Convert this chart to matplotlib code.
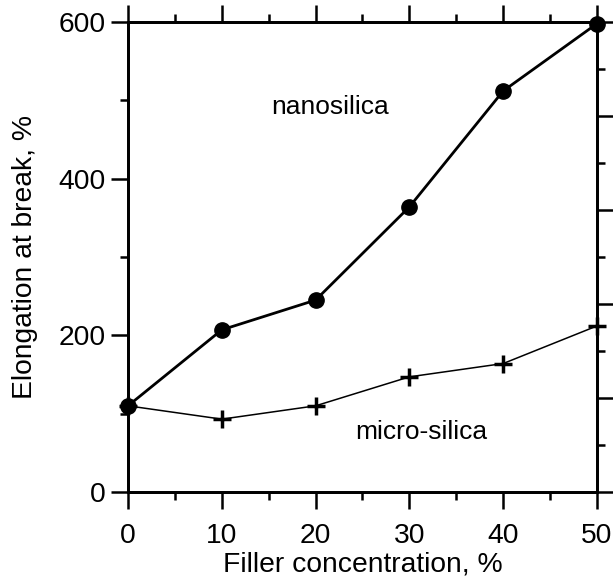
import matplotlib
matplotlib.use("Agg")
import matplotlib.pyplot as plt
from matplotlib.ticker import MultipleLocator, NullFormatter

plt.rcParams['font.family'] = ['Liberation Sans', 'DejaVu Sans']

concentration = [0, 10, 20, 30, 40, 50]
nanosilica = [110, 207, 245, 364, 512, 598]
microsilica = [110, 93, 110, 147, 164, 212]

fig = plt.figure(figsize=(6.13, 5.81), dpi=100)
ax = fig.add_axes([0.2088, 0.1532, 0.7651, 0.8089])

ax.plot(concentration, nanosilica, color='black', lw=2.0, marker='o',
        markersize=11, clip_on=False, zorder=5)
ax.plot(concentration, microsilica, color='black', lw=1.1, marker='+',
        markersize=13, markeredgewidth=2.5, clip_on=False, zorder=5)

ax.set_xlim(0, 50)
ax.set_ylim(0, 600)
ax.xaxis.set_major_locator(MultipleLocator(10))
ax.xaxis.set_minor_locator(MultipleLocator(5))
ax.yaxis.set_major_locator(MultipleLocator(200))
ax.yaxis.set_minor_locator(MultipleLocator(100))

for s in ax.spines.values():
    s.set_linewidth(2.0)

ax.tick_params(which='major', direction='out', length=12, width=1.8,
               labelsize=20.3, pad=4, top=True, right=False)
ax.tick_params(axis='x', which='major', pad=10.5)
ax.tick_params(which='minor', direction='out', length=6, width=1.8,
               top=True, right=False)
ax.tick_params(axis='x', which='both', labeltop=False)

ax2 = ax.twinx()
ax2.set_ylim(0, 5)
ax2.yaxis.set_major_locator(MultipleLocator(1))
ax2.yaxis.set_minor_locator(MultipleLocator(0.5))
ax2.yaxis.set_major_formatter(NullFormatter())
ax2.tick_params(which='major', direction='out', length=12, width=1.8)
ax2.tick_params(which='minor', direction='out', length=6, width=1.8)
for s in ax2.spines.values():
    s.set_linewidth(2.0)

ax.set_xlabel('Filler concentration, %', fontsize=20.3, labelpad=1.5)
ax.set_ylabel('Elongation at break, %', fontsize=20.3, labelpad=15)

ax.text(21.5, 491, 'nanosilica', fontsize=19, ha='center', va='center')
ax.text(31.3, 77, 'micro-silica', fontsize=19, ha='center', va='center')

fig.savefig('out.png', dpi=100)
